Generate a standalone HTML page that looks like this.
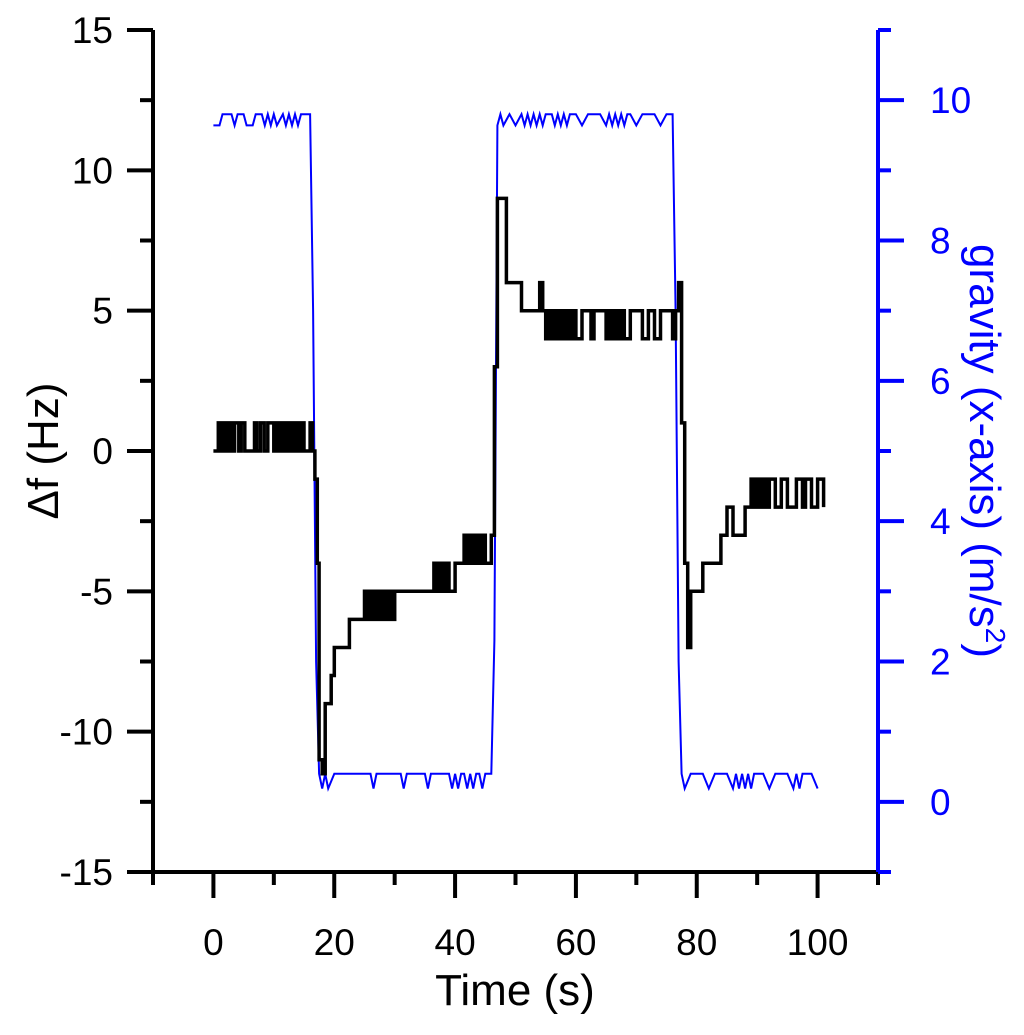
<!DOCTYPE html>
<html><head><meta charset="utf-8"><style>
html,body{margin:0;padding:0;background:#fff;}
svg text{font-family:"Liberation Sans",sans-serif;}
</style></head><body>
<svg id="chart" width="1024" height="1030" xmlns="http://www.w3.org/2000/svg">
<g id="axes"></g><g id="series"></g>
</svg>
<script>
const xTicks=[0,20,40,60,80,100];
const yLeftTicks=[-15,-10,-5,0,5,10,15];
const yRightTicks=[0,2,4,6,8,10];
const fTimes=[0,0.8,1.2,1.6,2,2.5,3,3.5,4.2,4.6,5.2,6,6.8,7.2,7.8,8.4,9,10,10.5,11,11.5,12,12.5,13,13.5,14,14.5,15,16,16.4,16.8,17.2,17.5,18,18.5,19,19.5,20,21,22,22.5,23,24,24.5,25,25.5,26,26.5,27,27.5,28,28.5,29,29.5,30,31,36.5,37,37.5,38,38.5,39,40,41,41.5,42,42.5,43,43.5,44,44.5,45,46,46.5,47,48,48.5,50,51,53,53.5,54,54.5,55,55.5,56,56.5,57,57.5,58,58.5,59,59.5,60,61,62,62.5,63,64,65,65.5,66,66.5,67,67.5,68,69,70,71,72,72.5,73,74,75,76,76.5,77,77.5,78,78.5,79,80,81,84,84.5,85,86,88,88.5,89,89.5,90,90.5,91,91.5,92,93,94,95,96,96.5,97,97.5,98,99,100,101];
const fValues=[0,1,0,1,0,1,0,1,0,1,0,0,1,0,1,0,1,0,1,0,1,0,1,0,1,0,1,0,1,0,-1,-4,-11,-11.5,-9,-9,-8,-7,-7,-7,-6,-6,-6,-6,-5,-6,-5,-6,-5,-6,-5,-6,-5,-6,-5,-5,-4,-5,-4,-5,-4,-5,-4,-4,-3,-4,-3,-4,-3,-4,-3,-4,-3,3,9,9,6,6,5,5,5,6,5,4,5,4,5,4,5,4,5,4,5,4,5,5,4,5,5,4,5,4,5,4,5,4,5,5,4,5,5,4,5,5,4,5,6,1,-4,-7,-5,-5,-4,-3,-3,-2,-3,-2,-2,-1,-2,-1,-2,-1,-2,-1,-2,-1,-2,-2,-1,-1,-2,-1,-2,-1,-2,-3,-2];
const gTimes=[0,1,1.5,3,3.5,4,5,5.5,6.5,7,8,8.5,9,9.5,10,10.5,11.5,12,12.5,13,13.5,14,14.5,15,15.5,16,16.5,17,17.5,18,18.5,19,20,26,26.5,27,31,31.5,32,35,35.5,36,39,39.5,40,40.5,41,41.5,42,42.5,43,43.5,44,44.5,45,45.5,46,46.5,47,47.5,48,49,50,51,51.5,52,52.5,53,53.5,54,54.5,55,56,56.5,57,57.5,58,58.5,59,60,61,62,63,64,65,65.5,66,66.5,67,67.5,68,68.5,69,70,71,72,73,74,75,76,76.5,77,77.5,78,79,80,81,82,83,84,85,86,86.5,87,87.5,88,88.5,89,89.5,90,91,92,93,94,95,96,96.5,97,97.5,98,99,100,101];
const gValues=[9.64,9.64,9.8,9.8,9.64,9.8,9.8,9.64,9.64,9.8,9.8,9.64,9.8,9.64,9.8,9.64,9.8,9.64,9.8,9.64,9.8,9.64,9.8,9.8,9.8,9.8,7,2,0.4,0.19,0.4,0.19,0.4,0.4,0.19,0.4,0.4,0.19,0.4,0.4,0.19,0.4,0.4,0.19,0.4,0.19,0.4,0.4,0.19,0.4,0.19,0.4,0.4,0.19,0.4,0.4,0.4,2.3,9.64,9.8,9.64,9.8,9.64,9.8,9.64,9.8,9.64,9.8,9.64,9.8,9.64,9.8,9.8,9.64,9.8,9.64,9.8,9.64,9.8,9.8,9.64,9.8,9.8,9.8,9.64,9.8,9.64,9.8,9.64,9.8,9.64,9.8,9.8,9.64,9.8,9.8,9.8,9.64,9.8,9.8,7,2,0.4,0.19,0.4,0.4,0.4,0.19,0.4,0.4,0.4,0.19,0.4,0.19,0.4,0.19,0.4,0.19,0.4,0.4,0.4,0.19,0.4,0.4,0.4,0.19,0.4,0.19,0.4,0.4,0.4,0.19];
const L=153,R=878,T=30,B=872;
const X=t=>L+(t+10)/120*(R-L);
const YL=v=>B-(v+15)/30*(B-T);
const YR=v=>B-(v+1)/12*(B-T);
const NS="http://www.w3.org/2000/svg";
const axes=document.getElementById('axes'),series=document.getElementById('series');
function mk(tag,at,parent,txt){const e=document.createElementNS(NS,tag);for(const k in at)e.setAttribute(k,at[k]);if(txt!==undefined)e.textContent=txt;parent.appendChild(e);return e;}
let e;
e=mk('line',{x1:L,y1:T,x2:L,y2:B+2,stroke:'#000','stroke-width':4},axes);


e=mk('line',{x1:L-2,y1:B,x2:R,y2:B,stroke:'#000','stroke-width':4},axes);


e=mk('line',{x1:R,y1:T,x2:R,y2:B+2,stroke:'#0000ff','stroke-width':4},axes);


for(let v=-15;v<=15;v+=2.5){const maj=v%5===0;mk('line',{x1:L-(maj?26:13),y1:YL(v),x2:L,y2:YL(v),stroke:'#000','stroke-width':4},axes);}
yLeftTicks.forEach(v=>{e=mk('text',{x:L-40,y:YL(v)+13,'text-anchor':'end','font-size':37},axes,String(v));

});
for(let t=-10;t<=110;t+=10){const maj=t%20===0;mk('line',{x1:X(t),y1:B,x2:X(t),y2:B+(maj?26:13),stroke:'#000','stroke-width':4},axes);}
xTicks.forEach(t=>{e=mk('text',{x:X(t),y:B+83,'text-anchor':'middle','font-size':37},axes,String(t));

});
for(let v=-1;v<=11;v+=1){const maj=v%2===0;mk('line',{x1:R,y1:YR(v),x2:R+(maj?26:13),y2:YR(v),stroke:'#0000ff','stroke-width':4},axes);}
yRightTicks.forEach(v=>{e=mk('text',{x:R+52,y:YR(v)+13,'text-anchor':'start','font-size':37,fill:'#0000ff'},axes,String(v));

});
e=mk('text',{x:515,y:1005,'text-anchor':'middle','font-size':44},axes,'Time (s)');


e=mk('text',{x:0,y:0,'text-anchor':'middle','font-size':44,transform:'translate(58,451) rotate(-90)'},axes,'\u0394f (Hz)');


e=mk('text',{x:0,y:0,'text-anchor':'middle','font-size':44,fill:'#0000ff',transform:'translate(970,451) rotate(90)'},axes);


e.textContent='gravity (x-axis) (m/s';
mk('tspan',{'font-size':28,dy:-16},e,'2');
mk('tspan',{dy:16},e,')');
let gp=gTimes.map((t,i)=>X(t).toFixed(1)+','+YR(gValues[i]).toFixed(1)).join(' ');
e=mk('polyline',{points:gp,fill:'none',stroke:'#0000ff','stroke-width':2},series);


let fp=[];fTimes.forEach((t,i)=>{if(i>0)fp.push(X(t).toFixed(1)+','+YL(fValues[i-1]).toFixed(1));fp.push(X(t).toFixed(1)+','+YL(fValues[i]).toFixed(1));});
e=mk('polyline',{points:fp.join(' '),fill:'none',stroke:'#000','stroke-width':3.5},series);


</script>
</body></html>
